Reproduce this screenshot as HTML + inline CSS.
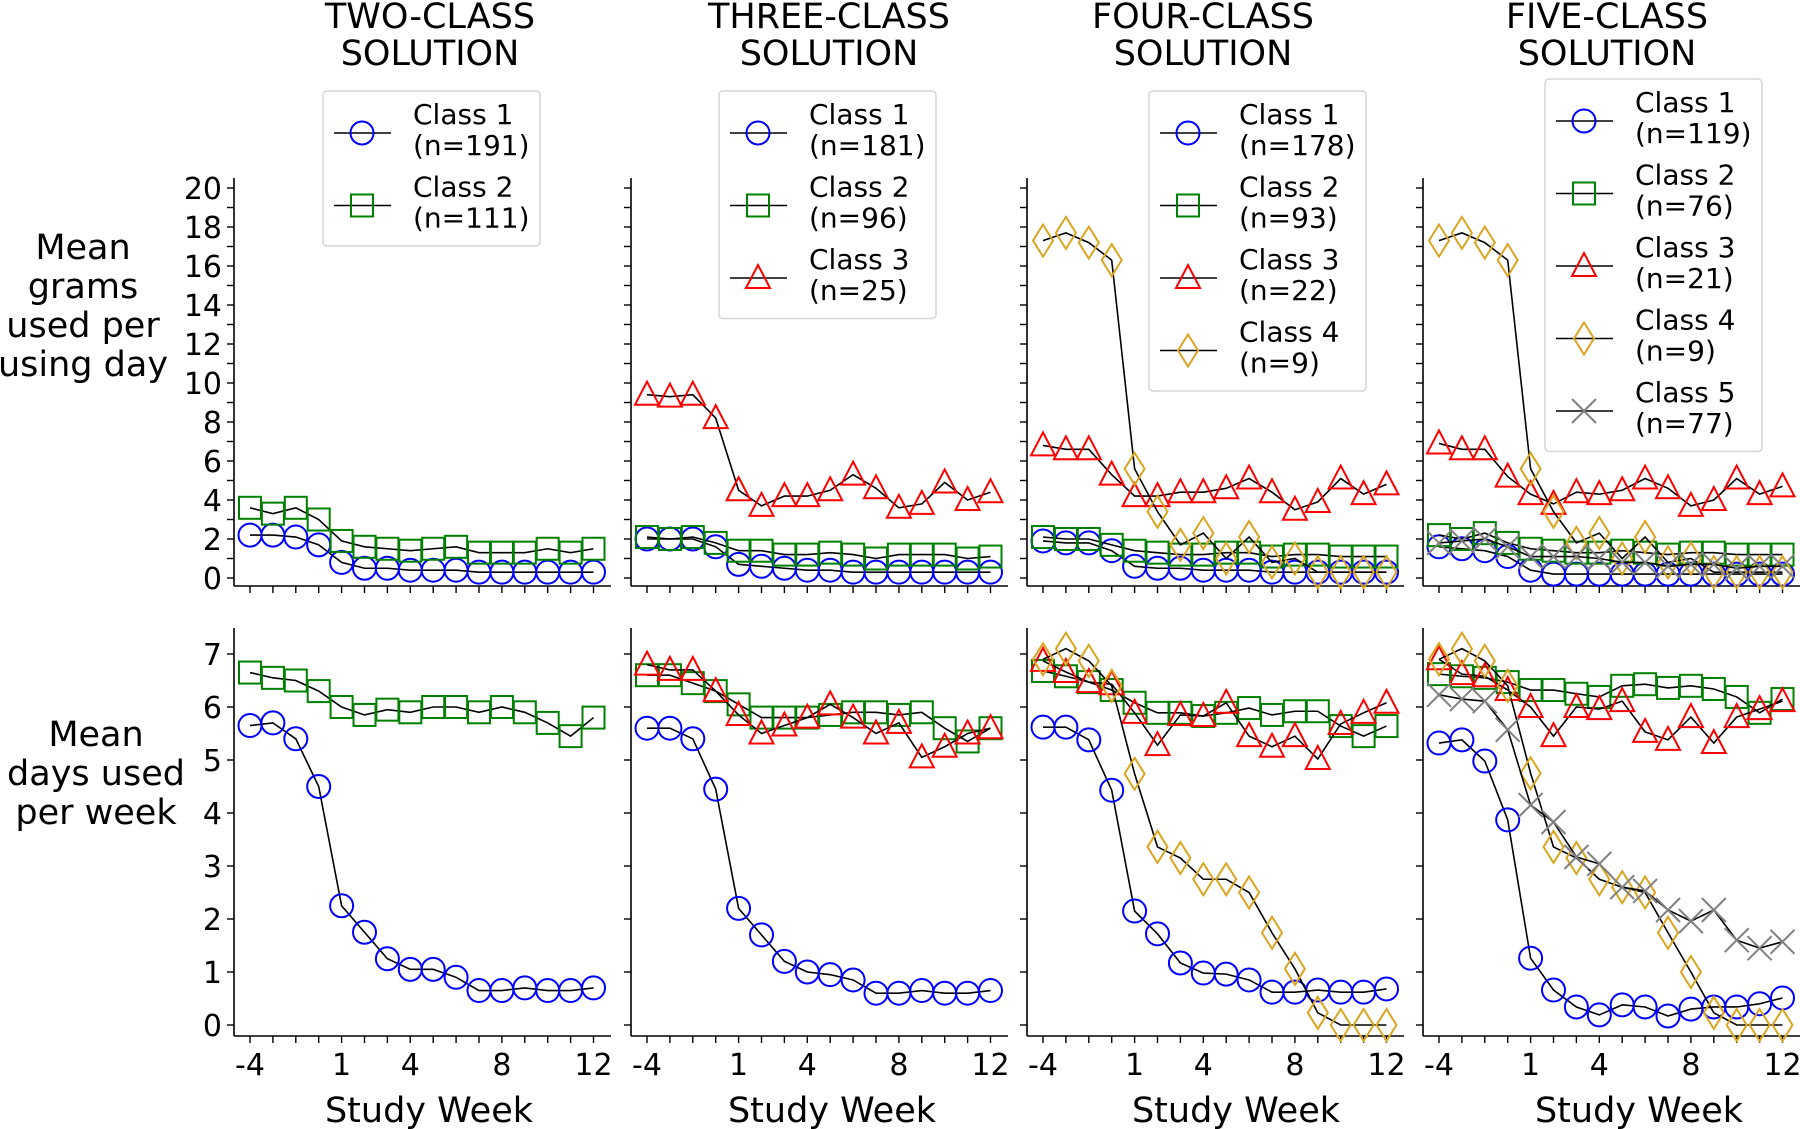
<!DOCTYPE html>
<html><head><meta charset="utf-8"><style>
body{margin:0;background:#fff}
svg{display:block;font-family:"DejaVu Sans","Liberation Sans",sans-serif}
</style></head><body>
<svg id="c" width="1800" height="1129" viewBox="0 0 1800 1129" xmlns="http://www.w3.org/2000/svg"></svg>
<script>
// ---- data ----
const weeks = ["-4","-3","-2","-1","1","2","3","4","5","6","7","8","9","10","11","12"];
const xTickLabels = ["-4","1","4","8","12"];
const xTickIdx = [0,4,7,11,15];
const titles = [["TWO-CLASS","SOLUTION"],["THREE-CLASS","SOLUTION"],["FOUR-CLASS","SOLUTION"],["FIVE-CLASS","SOLUTION"]];
const legendNs = [["191","111"],["181","96","25"],["178","93","22","9"],["119","76","21","9","77"]];
const gramTicks = [0,2,4,6,8,10,12,14,16,18,20];
const dayTicks = [0,1,2,3,4,5,6,7];

// grams per using day
const g1c1=[2.2,2.2,2.1,1.7,0.8,0.5,0.5,0.4,0.4,0.4,0.3,0.3,0.3,0.3,0.3,0.3];
const g1c2=[3.6,3.3,3.6,3.0,1.9,1.6,1.5,1.4,1.5,1.6,1.3,1.3,1.3,1.5,1.3,1.5];
const g2c1=[2.0,2.0,2.0,1.6,0.7,0.6,0.5,0.4,0.4,0.3,0.3,0.3,0.3,0.3,0.3,0.3];
const g2c2=[2.1,2.0,2.1,1.8,1.4,1.4,1.2,1.2,1.3,1.2,1.0,1.2,1.2,1.2,1.0,1.1];
const g2c3=[9.4,9.3,9.4,8.2,4.5,3.7,4.2,4.2,4.5,5.3,4.6,3.6,3.8,4.9,4.0,4.4];
const g3c1=[1.9,1.8,1.8,1.4,0.6,0.5,0.5,0.4,0.4,0.4,0.3,0.3,0.3,0.3,0.3,0.3];
const g3c2=[2.1,2.0,2.0,1.7,1.4,1.3,1.2,1.2,1.3,1.3,1.1,1.2,1.2,1.1,1.1,1.1];
const g3c3=[6.8,6.6,6.6,5.3,4.2,4.2,4.4,4.4,4.6,5.1,4.4,3.5,3.9,5.1,4.3,4.8];
const g3c4=[17.3,17.7,17.2,16.3,5.6,3.4,1.7,2.3,1.0,2.1,0.8,1.0,0.3,0.3,0.3,0.3];
const g4c1=[1.6,1.5,1.4,1.1,0.4,0.2,0.2,0.2,0.2,0.2,0.2,0.2,0.2,0.2,0.2,0.2];
const g4c2=[2.2,2.0,2.3,1.8,1.5,1.4,1.3,1.3,1.4,1.3,1.2,1.3,1.3,1.2,1.2,1.2];
const g4c3=[6.9,6.6,6.6,5.2,4.3,3.8,4.4,4.3,4.5,5.1,4.6,3.7,4.0,5.1,4.3,4.7];
const g4c4=[17.3,17.7,17.2,16.3,5.6,3.4,1.8,2.3,1.0,2.1,0.8,1.0,0.3,0.3,0.3,0.3];
const g4c5=[1.8,1.9,2.0,1.6,1.1,1.1,1.1,1.0,0.8,0.8,0.6,0.7,0.7,0.5,0.6,0.6];
// days used per week
const d1c1=[5.65,5.7,5.4,4.5,2.25,1.75,1.25,1.05,1.05,0.9,0.65,0.65,0.7,0.65,0.65,0.7];
const d1c2=[6.65,6.55,6.5,6.3,6.0,5.85,5.95,5.9,6.0,6.0,5.9,6.0,5.9,5.7,5.45,5.8];
const d2c1=[5.6,5.6,5.4,4.45,2.2,1.7,1.2,1.0,0.95,0.85,0.6,0.6,0.65,0.6,0.6,0.65];
const d2c2=[6.6,6.6,6.45,6.3,6.05,5.8,5.8,5.8,5.85,5.9,5.9,5.85,5.9,5.6,5.35,5.6];
const d2c3=[6.8,6.7,6.7,6.3,5.85,5.5,5.65,5.8,6.05,5.8,5.5,5.7,5.05,5.25,5.5,5.6];
const d3c1=[5.62,5.62,5.38,4.43,2.15,1.72,1.17,0.98,0.96,0.85,0.62,0.62,0.66,0.62,0.62,0.68];
const d3c2=[6.68,6.58,6.47,6.32,6.08,5.89,5.89,5.83,5.89,5.98,5.85,5.92,5.92,5.64,5.45,5.64];
const d3c3=[6.87,6.66,6.47,6.43,5.89,5.28,5.85,5.83,6.08,5.45,5.25,5.45,5.02,5.68,5.89,6.08];
const d3c4=[6.9,7.1,6.87,6.4,4.74,3.36,3.15,2.75,2.75,2.5,1.74,1.06,0.23,0,0,0];
const d4c1=[5.32,5.38,4.98,3.87,1.26,0.66,0.34,0.19,0.38,0.34,0.17,0.30,0.34,0.34,0.40,0.51];
const d4c2=[6.62,6.58,6.55,6.47,6.32,6.32,6.25,6.19,6.4,6.43,6.36,6.4,6.34,6.19,5.89,6.15];
const d4c3=[6.9,6.62,6.58,6.32,6.0,5.45,6.0,5.96,6.11,5.53,5.38,5.81,5.32,5.81,5.96,6.11];
const d4c4=[6.9,7.1,6.87,6.4,4.75,3.36,3.15,2.75,2.6,2.5,1.74,1.0,0.23,0,0,0];
const d4c5=[6.23,6.15,6.11,5.57,4.15,3.83,3.17,3.04,2.6,2.53,2.17,1.96,2.17,1.6,1.45,1.57];

const gramSeries=[[g1c1,g1c2],[g2c1,g2c2,g2c3],[g3c1,g3c2,g3c3,g3c4],[g4c1,g4c2,g4c3,g4c4,g4c5]];
const daySeries=[[d1c1,d1c2],[d2c1,d2c2,d2c3],[d3c1,d3c2,d3c3,d3c4],[d4c1,d4c2,d4c3,d4c4,d4c5]];
const colors=["#0000ff","#008000","#ff0000","#daa520","#808080"];
const shapes=["circle","square","triangle","diamond","x"];

const NS="http://www.w3.org/2000/svg";
const svg=document.getElementById('c');
function el(tag,attrs,parent,text){const e=document.createElementNS(NS,tag);for(const k in attrs)e.setAttribute(k,attrs[k]);if(text!==undefined)e.textContent=text;(parent||svg).appendChild(e);return e;}

const spineL=[234,631,1027,1423];
const titleCx=[430,829,1203,1607];
const xlabCx=[429,832,1236,1639];
const firstPt=16, step=22.9, axW=377;
const topAx={y0:578,per:19.5,top:178,bot:586};
const botAx={y0:1025,per:53,top:628,bot:1036};
function xS(p,i){return spineL[p]+firstPt+i*step;}
function yS(ax,v){return ax.y0-v*ax.per;}

function marker(g,shape,color,x,y){
  let m;
  if(shape==="circle") m=el('circle',{cx:x,cy:y,r:11.5,fill:'none',stroke:color,'stroke-width':2},g);
  else if(shape==="square") m=el('rect',{x:x-11,y:y-11,width:22,height:22,fill:'none',stroke:color,'stroke-width':2},g);
  else if(shape==="triangle") m=el('polygon',{points:`${x},${y-13} ${x+12},${y+10} ${x-12},${y+10}`,fill:'none',stroke:color,'stroke-width':2},g);
  else if(shape==="diamond") m=el('polygon',{points:`${x},${y-16} ${x+10},${y} ${x},${y+16} ${x-10},${y}`,fill:'none',stroke:color,'stroke-width':2},g);
  else m=el('path',{d:`M${x-12},${y-12}L${x+12},${y+12}M${x-12},${y+12}L${x+12},${y-12}`,fill:'none',stroke:color,'stroke-width':2},g);
  
  
}

function drawAxes(p,ax,ticks,labelY,labelX,minor){
  const g=el('g',{});
  
  
  const L=spineL[p];
  el('line',{x1:L,y1:ax.top,x2:L,y2:ax.bot,stroke:'#000','stroke-width':1.6},g);
  el('line',{x1:L,y1:ax.bot,x2:L+axW,y2:ax.bot,stroke:'#000','stroke-width':1.6},g);
  const all=minor?[...Array(21).keys()]:ticks;
  all.forEach(v=>{const y=yS(ax,v);el('line',{x1:L-7,y1:y,x2:L,y2:y,stroke:'#000','stroke-width':1.4},g);});
  if(labelY) ticks.forEach(v=>{const t=el('text',{x:L-12,y:yS(ax,v)+11,'text-anchor':'end','font-size':30},g,String(v));});
  weeks.forEach((w,i)=>{const x=xS(p,i);el('line',{x1:x,y1:ax.bot,x2:x,y2:ax.bot+7,stroke:'#000','stroke-width':1.4},g);});
  if(labelX){
    xTickIdx.forEach((ix,k)=>{const t=el('text',{x:xS(p,ix),y:ax.bot+39,'text-anchor':'middle','font-size':30},g,xTickLabels[k]);});
    const xl=el('text',{x:xlabCx[p],y:1122,'text-anchor':'middle','font-size':35},g,'Study Week');
    
  }
}
function drawSeries(p,ax,series){
  series.forEach((vals,s)=>{
    const g=el('g',{});
    
    
    const pts=vals.map((v,i)=>xS(p,i)+','+yS(ax,v)).join(' ');
    el('polyline',{points:pts,fill:'none',stroke:'#000','stroke-width':1.6},g);
    vals.forEach((v,i)=>marker(g,shapes[s],colors[s],xS(p,i),yS(ax,v)));
  });
}

for(let p=0;p<4;p++){
  const tg=el('g',{});
  
  
  el('text',{x:titleCx[p],y:28,'text-anchor':'middle','font-size':35},tg,titles[p][0]);
  el('text',{x:titleCx[p],y:65,'text-anchor':'middle','font-size':35},tg,titles[p][1]);
  drawAxes(p,topAx,gramTicks,p===0,false,true);
  drawAxes(p,botAx,dayTicks,p===0,true,false);
  drawSeries(p,topAx,gramSeries[p]);
  drawSeries(p,botAx,daySeries[p]);
}

// y axis titles
const yl1=el('text',{x:83,'text-anchor':'middle','font-size':35});

["Mean","grams","used per","using day"].forEach((s,i)=>el('tspan',{x:83,y:259+i*39},yl1,s));
const yl2=el('text',{x:96,'text-anchor':'middle','font-size':35});

["Mean","days used","per week"].forEach((s,i)=>el('tspan',{x:96,y:746+i*39},yl2,s));

// legends
const legLeft=[323,719,1149,1545];
const legTop=[91,91,91,79];
legendNs.forEach((ns,p)=>{
  const g=el('g',{});
  
  
  const L=legLeft[p],T=legTop[p];
  el('rect',{x:L,y:T,width:217,height:ns.length*72.5+10,rx:4,fill:'#fff',stroke:'#d6d6d6','stroke-width':1.5},g);
  ns.forEach((n,s)=>{
    const e=el('g',{},g);
    
    
    const y=T+42+s*72.5;
    el('line',{x1:L+11,y1:y,x2:L+68,y2:y,stroke:'#000','stroke-width':1.6},e);
    marker(e,shapes[s],colors[s],L+39,y);
    el('text',{x:L+90,y:y-9,'font-size':28},e,'Class '+(s+1));
    el('text',{x:L+90,y:y+22,'font-size':28},e,'(n='+n+')');
  });
});
</script>
</body></html>
